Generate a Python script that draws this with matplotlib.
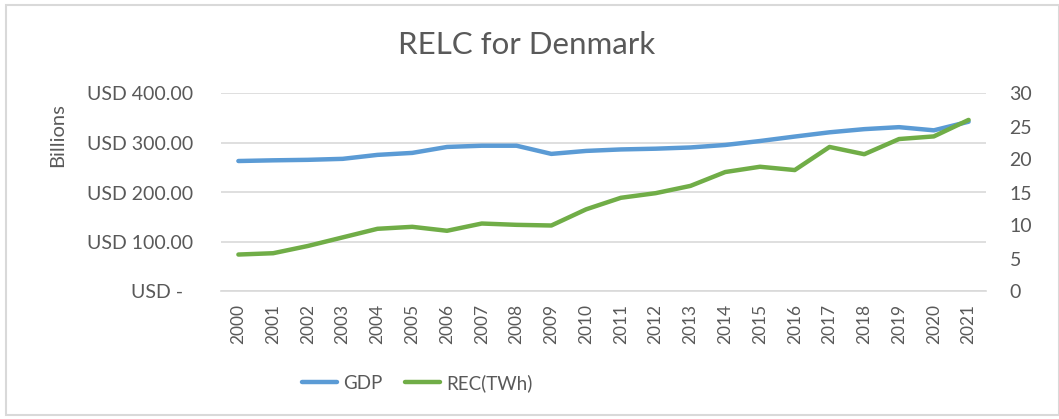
import numpy as np
from matplotlib import pyplot as plt
from matplotlib.patches import Rectangle

anos = [str(a) for a in range(2000, 2022)]
gdp = [263.6, 265, 266, 268, 276, 280, 292, 294.5, 294.5, 278, 284, 287,
       288.5, 291, 296, 304, 313, 321.6, 328, 332, 325.6, 343]
rec = [5.6, 5.8, 6.9, 8.2, 9.5, 9.8, 9.2, 10.3, 10.1, 10.0, 12.45, 14.2,
       14.9, 16.0, 18.1, 18.9, 18.4, 21.9, 20.8, 23.1, 23.5, 26.0]
ticks_esq = [0, 100, 200, 300, 400]
rotulos_esq = ["USD -  ", "USD 100.00", "USD 200.00", "USD 300.00", "USD 400.00"]
ticks_dir = [0, 5, 10, 15, 20, 25, 30]

plt.rcParams['font.family'] = ['Lato', 'DejaVu Sans']
cinza = "#595959"

fig = plt.figure(figsize=(10.59, 4.19), dpi=100)
fig.patches.append(Rectangle((6/1059, 4/419), 1 - 6/1059, 1 - 9/419, transform=fig.transFigure,
                             fill=False, edgecolor="#d9d9d9", linewidth=1.5))
ax = fig.add_axes([221/1059, 1 - 291.5/419, (986-221)/1059, (291.5-93.5)/419])
ax2 = ax.twinx()

x = np.arange(len(anos))
l1, = ax.plot(x, gdp, color="#5b9bd5", linewidth=3.2, solid_capstyle='round', label="GDP")
l2, = ax2.plot(x, rec, color="#70ad47", linewidth=3.2, solid_capstyle='round', label="REC(TWh)")

ax.set_xlim(-0.5, len(anos) - 0.5)
ax.set_ylim(0, 400)
ax2.set_ylim(0, 30)
ax.set_yticks(ticks_esq)
ax.set_yticklabels(rotulos_esq)
ax2.set_yticks(ticks_dir)
ax.set_xticks(x)
ax.set_xticklabels(anos, rotation=90)

ax.grid(axis='y', color="#d9d9d9", linewidth=1.2)
ax.set_axisbelow(True)
for a in (ax, ax2):
    for s in a.spines.values():
        s.set_visible(False)
ax.spines['bottom'].set_visible(True)
ax.spines['bottom'].set_color("#d9d9d9")
ax.spines['bottom'].set_linewidth(1.2)

ax.tick_params(axis='y', length=0, pad=20, labelsize=14, labelcolor=cinza)
ax.tick_params(axis='x', length=0, pad=9, labelsize=12.5, labelcolor=cinza)
ax2.tick_params(axis='y', length=0, pad=17, labelsize=14, labelcolor=cinza)

fig.text(58/1059, 1 - 135/419, "Billions", rotation=90, ha='center', va='center',
         fontsize=14.5, color=cinza)
fig.text(527/1059, 1 - 45/419, "RELC for Denmark", ha='center', va='center',
         fontsize=22.5, color=cinza)

fig.legend(handles=[l1, l2], loc='center', bbox_to_anchor=(417/1059, 1 - 383/419),
           ncol=2, frameon=False, fontsize=13.5, labelcolor=cinza,
           handlelength=1.9, handletextpad=0.3, columnspacing=1.2)

plt.savefig("out.png", dpi=100)
